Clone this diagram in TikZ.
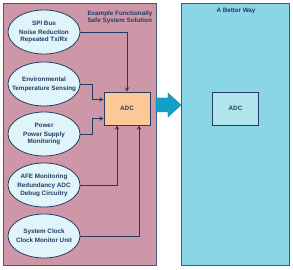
\documentclass[tikz,border=0pt]{standalone}
\usepackage{fontspec}
\setmainfont{Liberation Sans}
\usetikzlibrary{calc,shapes.geometric}

\begin{document}
\begin{tikzpicture}[x=1pt,y=1pt,
    txt/.style={font=\bfseries\fontsize{6.3}{7.6}\selectfont, text=navy, align=center},
    bubble/.style={ellipse, draw=navy, line width=0.8pt, fill=bubblecol,
        minimum width=72pt, minimum height=44pt, inner xsep=-8pt, inner ysep=0pt, txt},
    adcbox/.style={rectangle, draw=navy, line width=0.9pt, minimum width=46pt, minimum height=33pt, txt},
    panel/.style={draw=panelline, line width=0.9pt},
    conn/.style={->, >=stealth, draw=navy, line width=0.9pt}]

    % Definindo cores
    \definecolor{navy}{RGB}{35, 60, 100}
    \definecolor{panelline}{RGB}{60, 90, 130}
    \definecolor{pinkcol}{RGB}{206, 151, 168}
    \definecolor{cyancol}{RGB}{138, 214, 230}
    \definecolor{bubblecol}{RGB}{224, 245, 250}
    \definecolor{orangecol}{RGB}{251, 200, 150}
    \definecolor{lightadc}{RGB}{178, 228, 238}
    \definecolor{arrowcol}{RGB}{18, 160, 200}

    \useasboundingbox (0,0) rectangle (293,270);

    % 1. Paineis
    \filldraw[panel, fill=pinkcol] (3,5) rectangle (156,267);
    \filldraw[panel, fill=cyancol] (181,5) rectangle (289,267);

    % 2. Seta grossa entre os paineis
    \filldraw[fill=arrowcol, draw=arrowcol!80!black, line width=0.4pt]
        (156,158) -- (168,158) -- (168,153) -- (181,165) -- (168,177) -- (168,172) -- (156,172) -- cycle;

    % 3. Titulos
    \node[txt, align=left, anchor=north west] (ttl) at (84,263) {Example Functionally\\Safe System Solution};
    \node[txt] (better) at (236,259) {A Better Way};

    % 4. Elipses (fontes de falha)
    \node[bubble] (spi) at (44,238) {SPI Bus\\[1.6pt] Noise Reduction\\ Repeated Tx/Rx};
    \node[bubble] (env) at (44,186) {Environmental\\[1.6pt] Temperature Sensing};
    \node[bubble] (pwr) at (44,136) {Power\\[1.6pt] Power Supply\\ Monitoring};
    \node[bubble] (afe) at (44,85) {AFE Monitoring\\[1.6pt] Redundancy ADC\\ Debug Circuitry};
    \node[bubble] (clk) at (44,34) {System Clock\\[1.6pt] Clock Monitor Unit};

    % 5. Blocos ADC
    \node[adcbox, fill=orangecol] (adc) at (127,161.5) {ADC};
    \node[adcbox, fill=lightadc] (adc2) at (235.5,161.5) {ADC};

    % 6. Conexoes
    \draw[conn] (spi.east) -| (adc.north);
    \draw[conn] (env.east) -- ++(12,0) |- ($(adc.west)+(0,9)$);
    \draw[conn] (pwr.east) -- ++(12,0) |- ($(adc.west)+(0,-10)$);
    \draw[conn] (afe.east) -| ($(adc.south)+(-10,0)$);
    \draw[conn] (clk.east) -| ($(adc.south)+(12,0)$);

\end{tikzpicture}
\end{document}
